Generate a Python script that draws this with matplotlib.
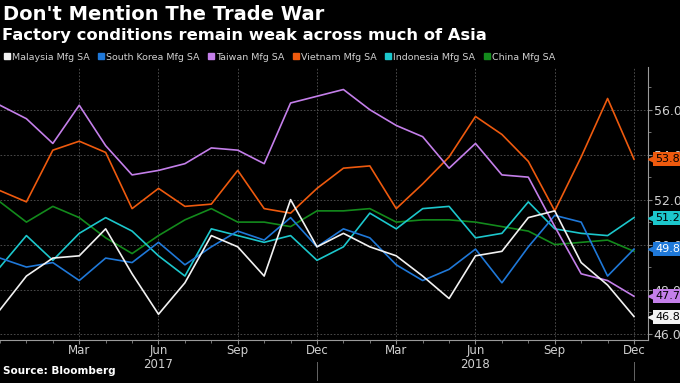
"""Asian factory PMIs, Bloomberg style"""

import matplotlib
matplotlib.use('Agg')
from matplotlib import pyplot as plt
from matplotlib import transforms

# Months Dec 2016 .. Dec 2018
months = ['Dec', 'Jan', 'Feb', 'Mar', 'Apr', 'May', 'Jun', 'Jul', 'Aug', 'Sep', 'Oct', 'Nov',
          'Dec', 'Jan', 'Feb', 'Mar', 'Apr', 'May', 'Jun', 'Jul', 'Aug', 'Sep', 'Oct', 'Nov', 'Dec']

malaysia = [47.1, 48.6, 49.4, 49.5, 50.7, 48.7, 46.9, 48.3, 50.4, 49.9, 48.6, 52.0,
            49.9, 50.5, 49.9, 49.5, 48.6, 47.6, 49.5, 49.7, 51.2, 51.5, 49.2, 48.2, 46.8]
south_korea = [49.4, 49.0, 49.2, 48.4, 49.4, 49.2, 50.1, 49.1, 49.9, 50.6, 50.2, 51.2,
               49.9, 50.7, 50.3, 49.1, 48.4, 48.9, 49.8, 48.3, 49.9, 51.3, 51.0, 48.6, 49.8]
taiwan = [56.2, 55.6, 54.5, 56.2, 54.4, 53.1, 53.3, 53.6, 54.3, 54.2, 53.6, 56.3,
          56.6, 56.9, 56.0, 55.3, 54.8, 53.4, 54.5, 53.1, 53.0, 50.8, 48.7, 48.4, 47.7]
vietnam = [52.4, 51.9, 54.2, 54.6, 54.1, 51.6, 52.5, 51.7, 51.8, 53.3, 51.6, 51.4,
           52.5, 53.4, 53.5, 51.6, 52.7, 53.9, 55.7, 54.9, 53.7, 51.5, 53.9, 56.5, 53.8]
indonesia = [49.0, 50.4, 49.3, 50.5, 51.2, 50.6, 49.5, 48.6, 50.7, 50.4, 50.1, 50.4,
             49.3, 49.9, 51.4, 50.7, 51.6, 51.7, 50.3, 50.5, 51.9, 50.7, 50.5, 50.4, 51.2]
china = [51.9, 51.0, 51.7, 51.2, 50.3, 49.6, 50.4, 51.1, 51.6, 51.0, 51.0, 50.8,
         51.5, 51.5, 51.6, 51.0, 51.1, 51.1, 51.0, 50.8, 50.6, 50.0, 50.1, 50.2, 49.7]

names = ['Malaysia Mfg SA', 'South Korea Mfg SA', 'Taiwan Mfg SA',
         'Vietnam Mfg SA', 'Indonesia Mfg SA', 'China Mfg SA']
series = [malaysia, south_korea, taiwan, vietnam, indonesia, china]
colors = ['#f2f2f2', '#1f78d8', '#c47fea', '#ee5a0e', '#1cc7cc', '#138a1c']
# value tags on the right (china has none)
tagged = [0, 1, 2, 3, 4]
tag_text = ['black', 'white', 'black', 'black', 'black', 'black']

x = list(range(len(months)))

fig = plt.figure(figsize=(6.8, 3.83), dpi=100, facecolor='black')
ax = fig.add_axes([0.0, 0.112, 648 / 680, 0.713], facecolor='black')

# draw order: china/indonesia behind, malaysia on top
order = [5, 4, 1, 3, 2, 0]
for i in order:
    ax.plot(x, series[i], color=colors[i], lw=1.2, zorder=3 + order.index(i))

ax.set_xlim(0, 24.53)
ax.set_ylim(45.75, 57.9)

# x ticks
major = [3, 6, 9, 12, 15, 18, 21, 24]
labels = []
for m in major:
    lab = months[m]
    if m == 6:
        lab += '\n2017'
    if m == 18:
        lab += '\n2018'
    labels.append(lab)
ax.set_xticks(major)
ax.set_xticklabels(labels, linespacing=1.1)
ax.set_xticks(x, minor=True)

# y ticks on the right
ax.yaxis.tick_right()
ax.set_yticks([46, 48, 50, 52, 54, 56])
ax.set_yticklabels(['%.1f' % v for v in [46, 48, 50, 52, 54, 56]])
ax.set_yticks(range(46, 58), minor=True)

ax.tick_params(colors='#888888', labelcolor='#d0d0d0', labelsize=9, length=3, width=0.8)
ax.tick_params(which='minor', colors='#888888', length=2, width=0.6)
ax.tick_params(axis='x', labelsize=8.5, pad=0)
ax.tick_params(axis='y', pad=1)

ax.grid(True, which='major', color='#555555', linestyle=(0, (2, 2)), lw=0.6)
for s in ['top', 'left']:
    ax.spines[s].set_visible(False)
ax.spines['right'].set_color('#9a9a9a')
ax.spines['bottom'].set_color('#9a9a9a')

# year separators under the axis
tr = transforms.blended_transform_factory(ax.transData, ax.transAxes)
for m in [12, 24]:
    ax.plot([m, m], [-0.08, -0.145], color='#666666', lw=0.7, transform=tr, clip_on=False)

# last-value tags
tr2 = transforms.blended_transform_factory(ax.transAxes, ax.transData)
for i in tagged:
    v = series[i][-1]
    ax.plot([1.0075], [v], marker='<', ms=6.5, color=colors[i], transform=tr2,
            clip_on=False, zorder=10)
    ax.text(1.011, v, '%.1f' % v, transform=tr2, ha='left', va='center', fontsize=8,
            color=tag_text[i], zorder=11,
            bbox=dict(boxstyle='square,pad=0.18', fc=colors[i], ec='none'))

# legend
handles = [plt.Line2D([], [], marker='s', ls='none', ms=5, color=c) for c in colors]
fig.legend(handles, names, loc='center left', bbox_to_anchor=(0.0, 0.851), ncol=6,
           frameon=False, fontsize=6.8, labelcolor='#d0d0d0', handletextpad=0.15,
           columnspacing=0.8, handlelength=0.8, borderpad=0, borderaxespad=0.3)

fig.text(0.004, 0.962, "Don't Mention The Trade War", color='white', fontsize=14,
         fontweight='bold', va='center')
fig.text(0.003, 0.907, 'Factory conditions remain weak across much of Asia', color='white',
         fontsize=11.8, fontweight='bold', va='center')
fig.text(0.005, 0.018, 'Source: Bloomberg', color='white', fontsize=7.5,
         fontweight='bold', va='bottom')

plt.savefig('out.png', dpi=100, facecolor='black')
